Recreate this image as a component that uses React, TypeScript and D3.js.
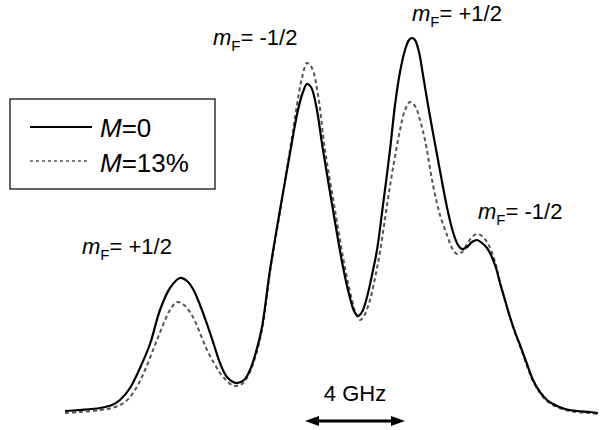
import React from "react";
import * as d3 from "d3";

// Frequency axis (GHz, arbitrary origin) and signal (arb. units)
const freqSolid = [0.00,0.60,1.40,1.88,2.20,2.60,3.00,3.40,3.80,4.20,4.60,4.88,5.12,5.40,5.68,5.96,6.20,6.48,6.84,7.16,7.40,7.64,7.88,8.20,8.60,9.00,9.32,9.52,9.68,9.84,10.04,10.32,10.72,11.12,11.40,11.56,11.72,11.88,12.08,12.28,12.48,12.72,13.00,13.20,13.40,13.60,13.76,13.88,14.00,14.16,14.32,14.52,14.72,14.92,15.12,15.32,15.52,15.72,15.88,16.08,16.28,16.48,16.68,16.88,17.04,17.24,17.40,17.60,17.80,18.00,18.20,18.48,18.72,19.00,19.28,19.52,20.00,20.48,21.00,21.32];
const signalM0 = [1.00,1.25,1.75,2.50,3.75,6.75,11.75,17.75,26.25,31.75,34.25,33.50,31.50,27.50,22.75,17.50,13.00,9.50,8.00,8.75,11.25,15.75,22.00,36.25,51.25,65.50,76.25,80.75,82.75,82.00,77.50,66.25,51.25,37.00,29.25,26.00,24.75,25.75,29.50,35.00,41.25,52.50,66.25,77.50,85.75,91.25,93.75,94.25,93.75,90.75,85.00,77.50,70.50,63.75,57.00,50.75,45.75,42.50,41.50,42.00,43.25,43.75,43.00,41.75,40.00,36.75,33.00,28.75,24.50,20.75,17.50,12.75,8.75,5.75,3.75,2.75,1.50,1.00,0.75,0.50];

const freqDashed = [0.00,0.60,1.40,2.00,2.40,2.80,3.20,3.60,3.92,4.20,4.48,4.76,5.12,5.40,5.68,5.96,6.20,6.48,6.76,7.08,7.32,7.60,7.88,8.20,8.60,9.00,9.28,9.48,9.68,9.88,10.12,10.40,10.80,11.20,11.48,11.64,11.80,11.96,12.20,12.40,12.60,12.88,13.12,13.40,13.60,13.80,14.00,14.20,14.40,14.72,15.00,15.28,15.48,15.68,15.88,16.08,16.28,16.48,16.68,16.88,17.04,17.24,17.40,17.60,17.80,18.00,18.20,18.48,18.72,19.00,19.28,19.52,20.00,20.48,21.00,21.32];
const signalM13 = [0.50,0.75,1.25,2.00,3.25,6.25,11.25,17.50,22.50,26.25,28.25,27.50,24.50,20.50,16.25,13.00,10.50,8.50,7.25,7.75,9.75,14.25,21.25,35.75,50.75,66.25,77.50,84.25,88.00,86.75,80.00,66.25,51.25,36.75,28.75,25.25,23.75,24.75,28.75,34.25,40.75,52.50,61.75,71.25,76.25,78.25,77.25,73.75,68.75,57.50,50.00,45.00,41.75,40.25,40.75,42.75,44.50,45.25,44.75,43.25,41.25,37.50,33.25,28.75,24.25,20.50,17.25,12.25,8.50,5.50,3.50,2.50,1.25,0.75,0.50,0.25];

const legendLabels = ["=0", "=13%"];
const peakLabels = ["+1/2", "-1/2", "+1/2", "-1/2"];
const scaleLabel = "4 GHz";
const scaleSpan = [9.6, 13.6]; // GHz

const W = 600, H = 430;
const FONT = "'Liberation Sans', Arial, sans-serif";

export default function App() {
  const x = d3.scaleLinear().domain([0, 21.32]).range([65, 598]);
  const y = d3.scaleLinear().domain([0, 100]).range([415, 15]);
  const line = d3
    .line<[number, number]>()
    .x((d) => x(d[0]))
    .y((d) => y(d[1]))
    .curve(d3.curveCatmullRom.alpha(0.5));
  const solid = line(freqSolid.map((f, i) => [f, signalM0[i]] as [number, number])) || "";
  const dashed = line(freqDashed.map((f, i) => [f, signalM13[i]] as [number, number])) || "";

  const labelPos: [number, number][] = [
    [82, 254],
    [213, 45],
    [412, 21],
    [478, 219],
  ];

  const ax0 = x(scaleSpan[0]);
  const ax1 = x(scaleSpan[1]);
  const ay = 421;

  return (
    <svg
      width={W}
      height={H}
      style={{ position: "absolute", left: 0, top: 0, background: "#fff" }}
      fontFamily={FONT}
    >
      <path d={dashed} fill="none" stroke="#555" strokeWidth={2} strokeDasharray="4,3" />
      <path d={solid} fill="none" stroke="#000" strokeWidth={2.2} />

      {peakLabels.map((t, i) => (
        <text key={i} x={labelPos[i][0]} y={labelPos[i][1]} fontSize={22} fill="#000">
          <tspan fontStyle="italic">m</tspan>
          <tspan fontSize={15} dy={6}>F</tspan>
          <tspan dy={-6}>{"= " + t}</tspan>
        </text>
      ))}

      {/* legend */}
      <rect x={10} y={99} width={205} height={90} fill="#fff" stroke="#000" strokeWidth={1.2} />
      <line x1={30} x2={92} y1={127} y2={127} stroke="#000" strokeWidth={2} />
      <line x1={30} x2={88} y1={161} y2={161} stroke="#555" strokeWidth={1.5} strokeDasharray="3,3" />
      {legendLabels.map((t, i) => (
        <text key={i} x={100} y={137 + i * 35} fontSize={26} fill="#000">
          <tspan fontStyle="italic">M</tspan>
          <tspan>{t}</tspan>
        </text>
      ))}

      {/* scale arrow */}
      <text x={(ax0 + ax1) / 2} y={401} fontSize={22} textAnchor="middle" fill="#000">
        {scaleLabel}
      </text>
      <line x1={ax0 + 8} x2={ax1 - 8} y1={ay} y2={ay} stroke="#000" strokeWidth={3} />
      <path d={`M${ax0},${ay} L${ax0 + 14},${ay - 5} L${ax0 + 14},${ay + 5} Z`} fill="#000" />
      <path d={`M${ax1},${ay} L${ax1 - 14},${ay - 5} L${ax1 - 14},${ay + 5} Z`} fill="#000" />
    </svg>
  );
}
